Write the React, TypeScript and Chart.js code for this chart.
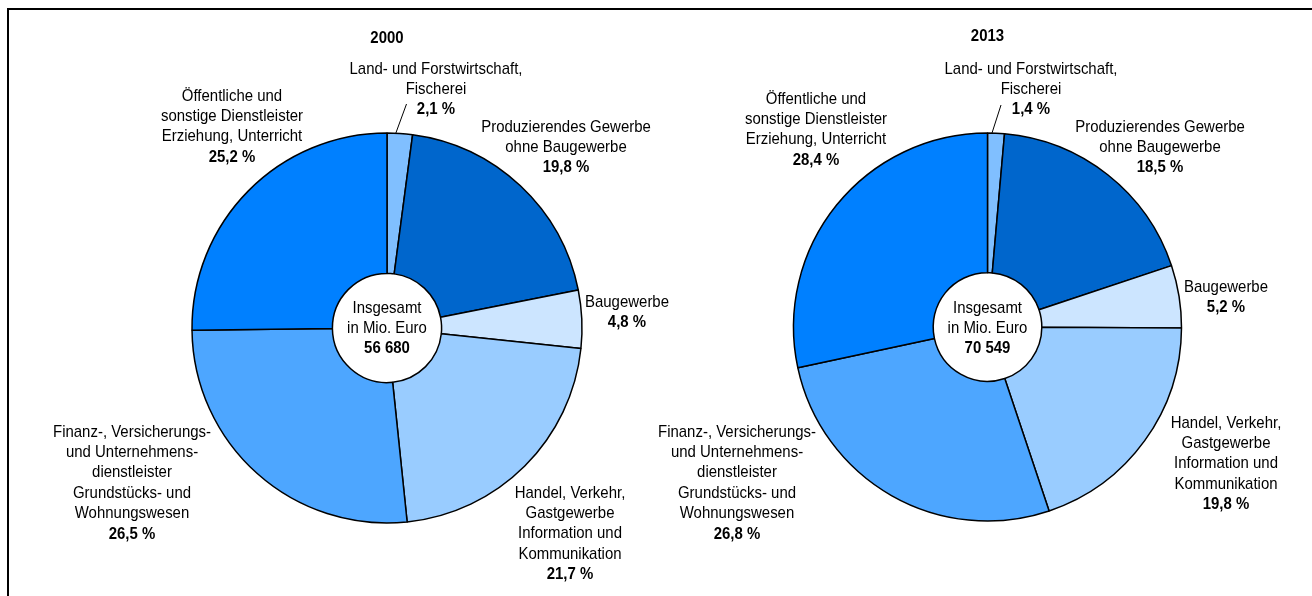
import { useEffect, useRef } from "react";
import { Chart, registerables } from "chart.js";

Chart.register(...registerables);

// ---------- data ----------
const years = ["2000", "2013"];
const categories = [
  "Land- und Forstwirtschaft, Fischerei",
  "Produzierendes Gewerbe ohne Baugewerbe",
  "Baugewerbe",
  "Handel, Verkehr, Gastgewerbe Information und Kommunikation",
  "Finanz-, Versicherungs- und Unternehmensdienstleister Grundstücks- und Wohnungswesen",
  "Öffentliche und sonstige Dienstleister Erziehung, Unterricht",
];
const categoryLines = [
  ["Land- und Forstwirtschaft,", "Fischerei"],
  ["Produzierendes Gewerbe", "ohne Baugewerbe"],
  ["Baugewerbe"],
  ["Handel, Verkehr,", "Gastgewerbe", "Information und", "Kommunikation"],
  ["Finanz-, Versicherungs-", "und Unternehmens-", "dienstleister", "Grundstücks- und", "Wohnungswesen"],
  ["Öffentliche und", "sonstige Dienstleister", "Erziehung, Unterricht"],
];
const values2000 = [2.1, 19.8, 4.8, 21.7, 26.5, 25.2];
const values2013 = [1.4, 18.5, 5.2, 19.8, 26.8, 28.4];
const totals = ["56 680", "70 549"];
const centerLines = ["Insgesamt", "in Mio. Euro"];
const sliceColors = ["#80bfff", "#0066cc", "#cce5ff", "#99ccff", "#4da6ff", "#0080ff"];

// ---------- layout (positions only) ----------
const W = 1312;
const H = 596;
const FONT = '"Liberation Sans Narrow", "Arial Narrow", "Liberation Sans", Arial, sans-serif';
const FS = 17;
const SX = 0.88;
const LH = 20.4;
const BW = 1.5;

const layouts = [
  {
    cx: 387, cy: 328, r: 195, titleY: 38, centerY: 308,
    labels: [
      { x: 436, y: 69 },
      { x: 566, y: 127 },
      { x: 627, y: 302 },
      { x: 570, y: 493 },
      { x: 132, y: 432 },
      { x: 232, y: 96 },
    ],
    leader: [395.5, 134, 406.5, 104],
  },
  {
    cx: 987.5, cy: 327, r: 194, titleY: 36, centerY: 308,
    labels: [
      { x: 1031, y: 69 },
      { x: 1160, y: 127 },
      { x: 1226, y: 287 },
      { x: 1226, y: 423 },
      { x: 737, y: 432 },
      { x: 816, y: 99 },
    ],
    leader: [992, 133, 1001, 105],
  },
];

const fmt = (v: number) => v.toFixed(1).replace(".", ",") + " %";

function drawText(ctx: CanvasRenderingContext2D, t: string, x: number, y: number, bold: boolean) {
  ctx.save();
  ctx.font = `${bold ? "bold " : ""}${FS}px ${FONT}`;
  ctx.translate(x, y);
  ctx.scale(SX, 1);
  ctx.fillText(t, 0, 0);
  ctx.restore();
}

function makeChart(canvas: HTMLCanvasElement, idx: number) {
  const L = layouts[idx];
  const values = idx === 0 ? values2000 : values2013;
  const half = L.r + BW / 2;
  const labelPlugin = {
    id: "labels" + idx,
    afterDraw(chart: any) {
      const ctx = chart.ctx as CanvasRenderingContext2D;
      ctx.save();
      ctx.fillStyle = "#000";
      ctx.textAlign = "center";
      ctx.textBaseline = "middle";
      drawText(ctx, years[idx], L.cx, L.titleY, true);
      centerLines.forEach((t, i) => drawText(ctx, t, L.cx, L.centerY + i * LH, false));
      drawText(ctx, totals[idx], L.cx, L.centerY + centerLines.length * LH, true);
      categoryLines.forEach((lines, c) => {
        const p = L.labels[c];
        lines.forEach((t, i) => drawText(ctx, t, p.x, p.y + i * LH, false));
        drawText(ctx, fmt(values[c]), p.x, p.y + lines.length * LH, true);
      });
      ctx.strokeStyle = "#000";
      ctx.lineWidth = 1;
      ctx.beginPath();
      ctx.moveTo(L.leader[0], L.leader[1]);
      ctx.lineTo(L.leader[2], L.leader[3]);
      ctx.stroke();
      ctx.restore();
    },
  };
  return new Chart(canvas, {
    type: "doughnut",
    data: {
      labels: categories,
      datasets: [
        {
          data: values,
          backgroundColor: sliceColors,
          borderColor: "#000",
          borderWidth: BW,
        },
      ],
    },
    options: {
      responsive: false,
      animation: false,
      devicePixelRatio: 1,
      cutout: "28%",
      rotation: 0,
      layout: {
        padding: {
          left: L.cx - half,
          right: W - (L.cx + half),
          top: L.cy - half,
          bottom: H - (L.cy + half),
        },
      },
      plugins: {
        legend: { display: false },
        title: { display: false },
        tooltip: { enabled: false },
      },
    },
    plugins: [labelPlugin],
  });
}

export default function App() {
  const ref0 = useRef<HTMLCanvasElement>(null);
  const ref1 = useRef<HTMLCanvasElement>(null);
  useEffect(() => {
    const c0 = makeChart(ref0.current!, 0);
    const c1 = makeChart(ref1.current!, 1);
    return () => {
      c0.destroy();
      c1.destroy();
    };
  }, []);
  const abs: any = { position: "absolute", left: 0, top: 0, width: W, height: H };
  return (
    <div style={{ position: "absolute", left: 0, top: 0, width: W, height: H, overflow: "hidden", background: "#fff" }}>
      <div
        style={{
          position: "absolute",
          left: 7,
          top: 8,
          width: 1400,
          height: 700,
          borderLeft: "2px solid #000",
          borderTop: "2px solid #000",
        }}
      />
      <canvas ref={ref0} width={W} height={H} style={abs} />
      <canvas ref={ref1} width={W} height={H} style={abs} />
    </div>
  );
}
